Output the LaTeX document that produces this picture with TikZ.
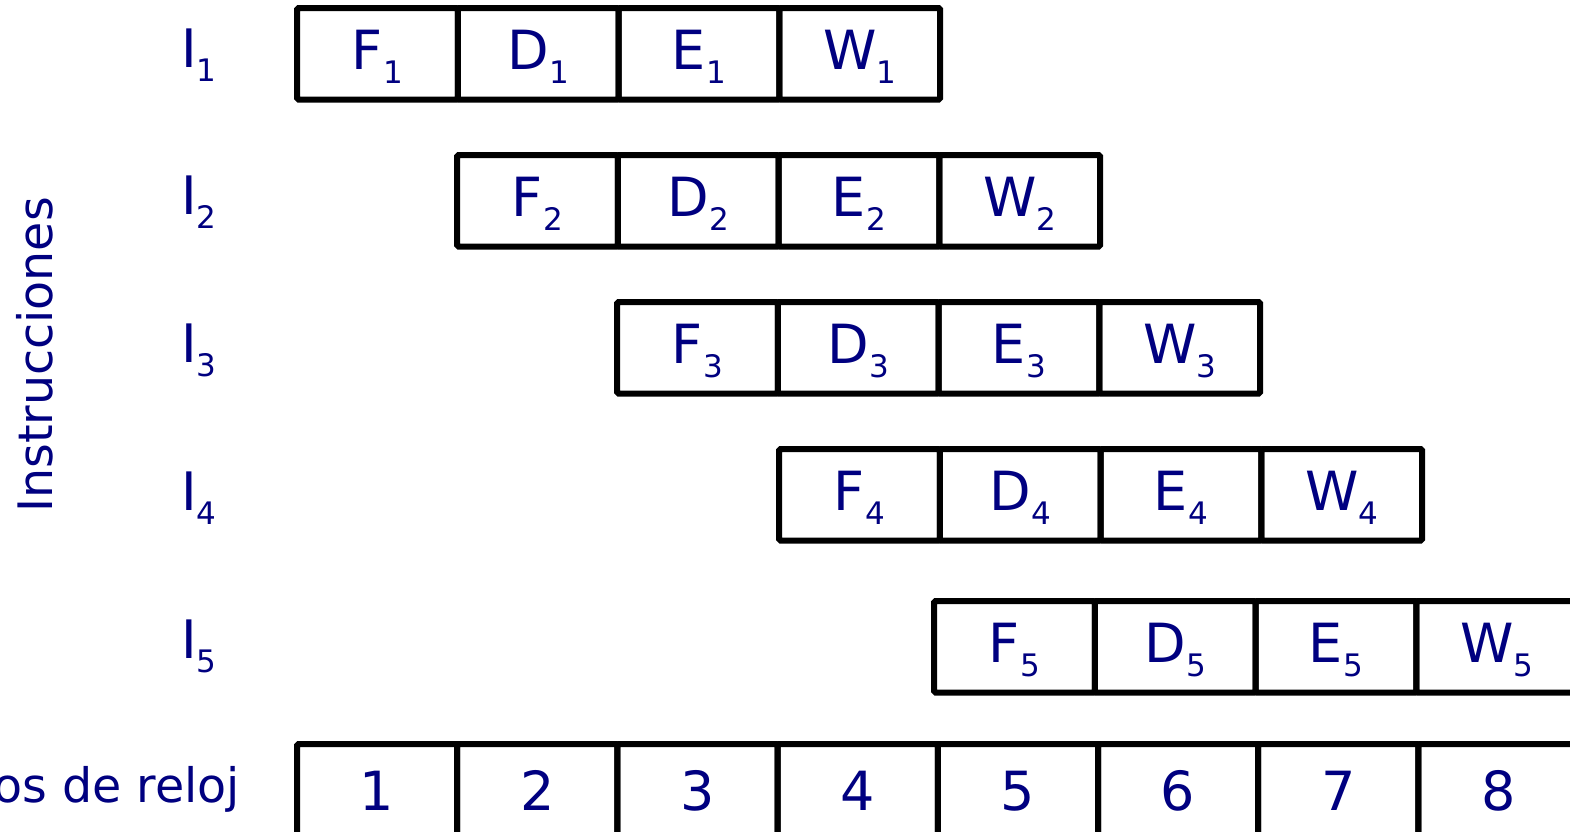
\documentclass[tikz,border=0pt]{standalone}
\usepackage{fontspec}
\setmainfont{DejaVu Sans}
\definecolor{labnavy}{HTML}{000080}
\newcommand{\sbs}[1]{\raisebox{-14pt}{\fontsize{31}{31}\selectfont #1}}
\tikzset{
  cell/.style={draw=black, line width=6pt, rounded corners=1.5pt, minimum width=160.75pt, minimum height=91.5pt,
    inner sep=0pt, outer sep=0pt, text=labnavy, font=\fontsize{54}{54}\selectfont, text height=31pt, text depth=0pt},
  clk/.style={cell, minimum width=160.2pt, text height=41pt},
  ilab/.style={anchor=base, text=labnavy, font=\fontsize{53}{53}\selectfont, inner sep=0pt},
  axlab/.style={text=labnavy, font=\fontsize{47.5}{47.5}\selectfont, inner sep=0pt}
}
\begin{document}
\begin{tikzpicture}[x=1pt,y=-1pt]
\clip (0,0) rectangle (1570,831);
\fill[white] (0,0) rectangle (1570,831);
% instruction rows: index / left x / top y / label baseline
\foreach \r/\xo/\yt/\lb in {1/297/8/67, 2/457/155/214, 3/617/302/362, 4/779/449/510, 5/934/601/658}{
  \node[ilab] (I\r) at (199,\lb) {I\sbs{\r}};
  \foreach \s [count=\k from 0] in {F,D,E,W}{
    \node[cell] (c\r\s) at ({\xo+(\k+0.5)*160.75},{\yt+45.75}) {\s\sbs{\r}};
  }
}
% clock row
\foreach \n in {1,...,8}{
  \node[clk] (k\n) at ({297+(\n-0.5)*160.2},{744+45.75}) {\n};
}
\node[axlab, rotate=90, anchor=base] (instr) at (52,355) {Instrucciones};
\node[axlab, anchor=base east] (ciclos) at (240,802) {Ciclos de reloj};
\end{tikzpicture}
\end{document}
